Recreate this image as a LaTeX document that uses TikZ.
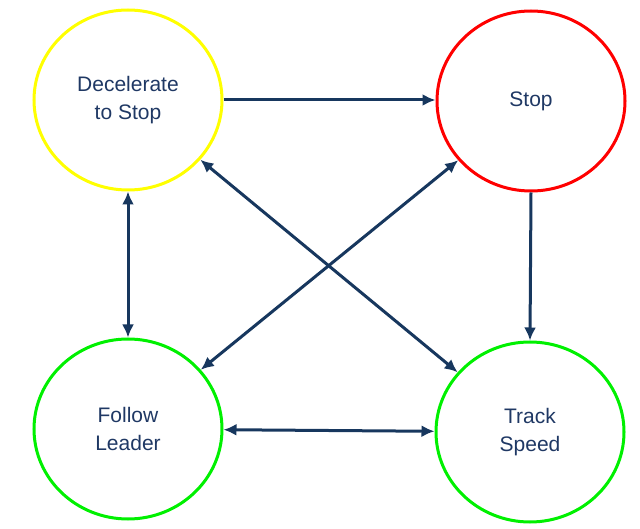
\documentclass[tikz,border=0pt]{standalone}
\usepackage{fontspec}
\setmainfont{Liberation Sans}
\usepackage{xcolor}
\usepackage{tikz}
\usetikzlibrary{positioning, arrows.meta, calc, shapes.geometric}
\definecolor{navytext}{HTML}{1F3864}
\definecolor{navyarrow}{HTML}{17375E}
\definecolor{decelyellow}{HTML}{FFFF00}
\definecolor{stopred}{HTML}{FF0000}
\definecolor{trackgreen}{HTML}{00F000}

\begin{document}
\begin{tikzpicture}[x=1pt, y=-1pt,
    mode/.style={ellipse, draw, line width=3pt, minimum width=188pt, minimum height=180pt,
                 inner sep=0pt, align=center, text=navytext, font=\fontsize{21}{28}\selectfont},
    link/.style={draw=navyarrow, line width=3pt, -{Latex[length=13pt, width=12pt]}},
    dlink/.style={link, {Latex[length=13pt, width=12pt]}-{Latex[length=13pt, width=12pt]}}]
    \useasboundingbox (0,0) rectangle (640,529);
    \node[mode, draw=decelyellow] (decel) at (128,100) {Decelerate\\to Stop};
    \node[mode, draw=stopred] (stop) at (531,101) {Stop};
    \node[mode, draw=trackgreen] (follow) at (128,429) {Follow\\Leader};
    \node[mode, draw=trackgreen] (track) at (530,432) {Track\\Speed};
    \draw[link] (decel.east |- 0,100) -- (stop.west |- 0,100);
    \draw[link] (stop.south) -- (track.north);
    \draw[dlink] (decel.south) -- (follow.north);
    \draw[dlink] (follow) -- (track);
    \draw[dlink] (decel) -- (track);
    \draw[dlink] (stop) -- (follow);
  \end{tikzpicture}
\end{document}
